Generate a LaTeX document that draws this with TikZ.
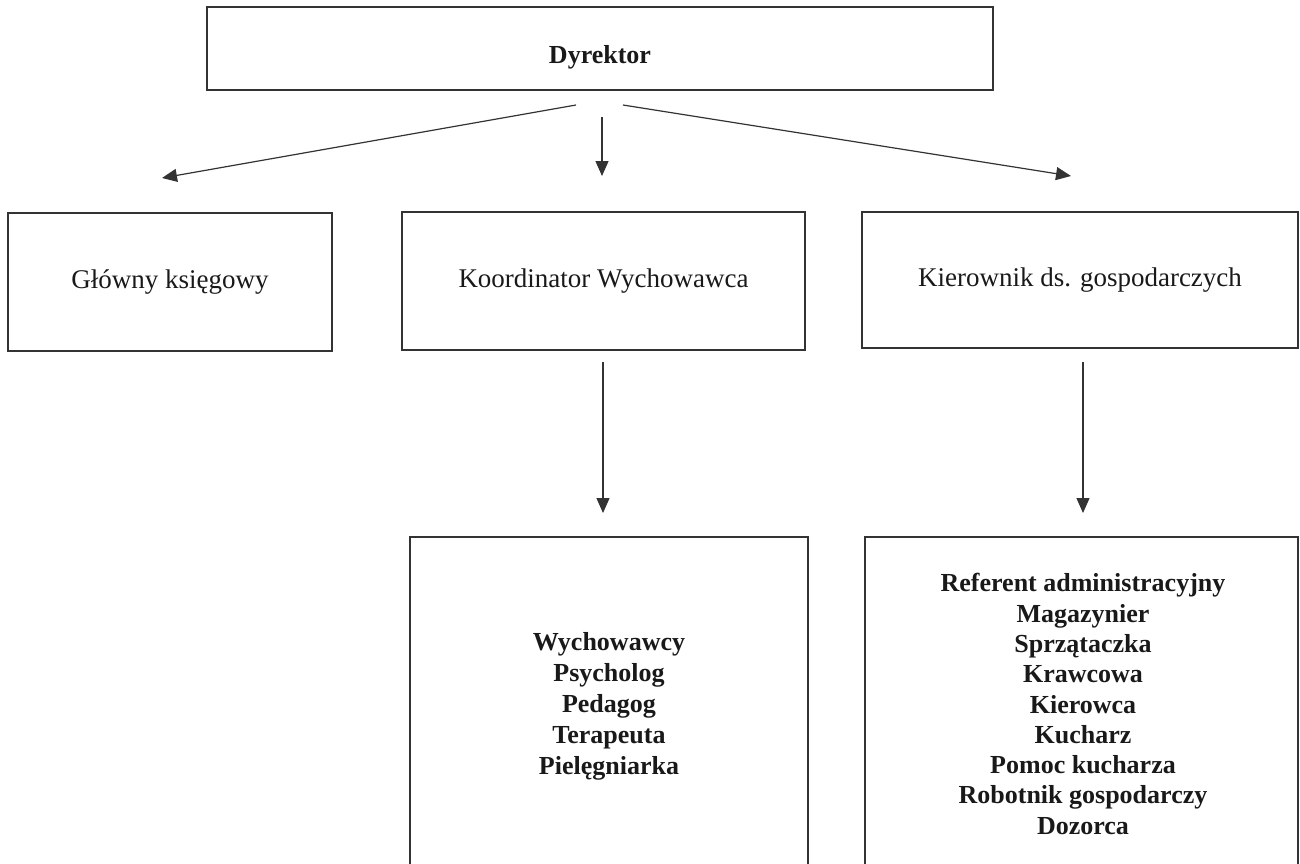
\documentclass[tikz,border=0pt]{standalone}
\usepackage{fontspec}
\setmainfont{Liberation Serif}
\usetikzlibrary{arrows.meta}
\begin{document}
\begin{tikzpicture}[x=1pt,y=-1pt,
  box/.style={draw=black!80, line width=1.2pt, inner sep=0pt, rectangle, fill=none},
  lbl/.style={font=\fontsize{27}{31}\selectfont, text=black!90, inner sep=0pt, align=center},
  lblb/.style={font=\fontsize{26}{31}\selectfont\bfseries, text=black!90, inner sep=0pt, align=center},
  arr/.style={draw=black!80, line width=1.2pt, -{Triangle[length=15pt,width=13pt]}}]
\useasboundingbox (0,0) rectangle (1300,863);
\clip (0,0) rectangle (1300,863);
% boxes
\node[box, minimum width=786pt, minimum height=83pt] (dyr) at (600,48.5) {};
\node[box, minimum width=324pt, minimum height=138pt] (glo) at (170,282) {};
\node[box, minimum width=403pt, minimum height=138pt] (koo) at (603.5,281) {};
\node[box, minimum width=436pt, minimum height=136pt] (kie) at (1080,280) {};
\node[box, minimum width=398pt, minimum height=334pt] (wyc) at (609,704) {};
\node[box, minimum width=433pt, minimum height=334pt] (gos) at (1081.5,704) {};
% labels
\node[lblb] (tdyr) at (600,57) {Dyrektor};
\node[lbl] (tglo) at (170,282) {Główny księgowy};
\node[lbl] (tkoo) at (603.5,281) {Koordinator Wychowawca};
\node[lbl] (tkie) at (1080,280) {Kierownik ds. gospodarczych};
\node[lblb] (twyc) at (609,706) {Wychowawcy\\Psycholog\\Pedagog\\Terapeuta\\Pielęgniarka};
\node[lblb, font=\fontsize{26}{30.3}\selectfont\bfseries] (tgos) at (1083,704) {Referent administracyjny\\Magazynier\\Sprzątaczka\\Krawcowa\\Kierowca\\Kucharz\\Pomoc kucharza\\Robotnik gospodarczy\\Dozorca};
% arrow end points
\coordinate (a1s) at (576,105);
\coordinate (a1e) at (162,178);
\coordinate (a2s) at (602,117);
\coordinate (a2e) at (602,176);
\coordinate (a3s) at (623,105);
\coordinate (a3e) at (1071,176);
\coordinate (a4s) at (603,362);
\coordinate (a4e) at (603,513);
\coordinate (a5s) at (1083,362);
\coordinate (a5e) at (1083,513);
\draw[arr] (a1s) -- (a1e);
\draw[arr] (a2s) -- (a2e);
\draw[arr] (a3s) -- (a3e);
\draw[arr] (a4s) -- (a4e);
\draw[arr] (a5s) -- (a5e);
\end{tikzpicture}
\end{document}
